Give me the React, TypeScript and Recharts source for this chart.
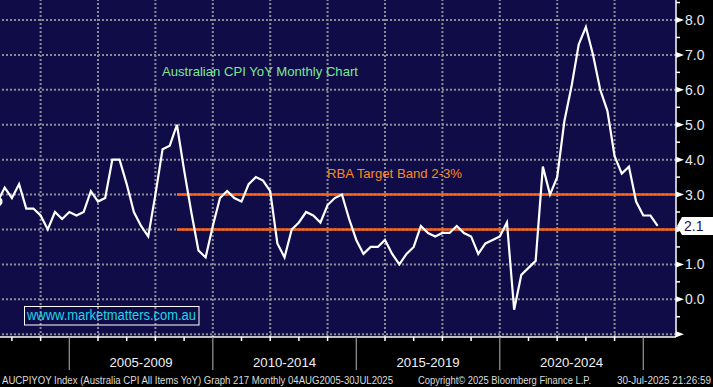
import React from 'react';
import { LineChart, Line, XAxis, YAxis, CartesianGrid, ReferenceLine } from 'recharts';

// Quarter-end periods (YYYY-MM)
const periods: string[] = [
  '2002-06', '2002-09', '2002-12',
  '2003-03', '2003-06', '2003-09', '2003-12',
  '2004-03', '2004-06', '2004-09', '2004-12',
  '2005-03', '2005-06', '2005-09', '2005-12',
  '2006-03', '2006-06', '2006-09', '2006-12',
  '2007-03', '2007-06', '2007-09', '2007-12',
  '2008-03', '2008-06', '2008-09', '2008-12',
  '2009-03', '2009-06', '2009-09', '2009-12',
  '2010-03', '2010-06', '2010-09', '2010-12',
  '2011-03', '2011-06', '2011-09', '2011-12',
  '2012-03', '2012-06', '2012-09', '2012-12',
  '2013-03', '2013-06', '2013-09', '2013-12',
  '2014-03', '2014-06', '2014-09', '2014-12',
  '2015-03', '2015-06', '2015-09', '2015-12',
  '2016-03', '2016-06', '2016-09', '2016-12',
  '2017-03', '2017-06', '2017-09', '2017-12',
  '2018-03', '2018-06', '2018-09', '2018-12',
  '2019-03', '2019-06', '2019-09', '2019-12',
  '2020-03', '2020-06', '2020-09', '2020-12',
  '2021-03', '2021-06', '2021-09', '2021-12',
  '2022-03', '2022-06', '2022-09', '2022-12',
  '2023-03', '2023-06', '2023-09', '2023-12',
  '2024-03', '2024-06', '2024-09', '2024-12',
  '2025-03', '2025-06',
];

// CPI YoY %
const cpiYoY: number[] = [
  2.8, 3.2, 2.9,
  3.3, 2.6, 2.6, 2.4,
  2.0, 2.5, 2.3, 2.5,
  2.4, 2.5, 3.1, 2.8,
  2.9, 4.0, 4.0, 3.3,
  2.5, 2.1, 1.8, 3.0,
  4.3, 4.4, 5.0, 3.7,
  2.5, 1.4, 1.2, 2.1,
  2.9, 3.1, 2.9, 2.8,
  3.3, 3.5, 3.4, 3.1,
  1.6, 1.2, 2.0, 2.2,
  2.5, 2.4, 2.2, 2.7,
  2.9, 3.0, 2.3, 1.7,
  1.3, 1.5, 1.5, 1.7,
  1.3, 1.0, 1.3, 1.5,
  2.1, 1.9, 1.8, 1.9,
  1.9, 2.1, 1.9, 1.8,
  1.3, 1.6, 1.7, 1.8,
  2.2, -0.3, 0.7, 0.9,
  1.1, 3.8, 3.0, 3.5,
  5.1, 6.1, 7.3, 7.8,
  7.0, 6.0, 5.4, 4.1,
  3.6, 3.8, 2.8, 2.4,
  2.4, 2.1,
];

const yearTicks: number[] = [2003, 2004, 2005, 2006, 2007, 2008, 2009, 2010, 2011, 2012, 2013, 2014, 2015, 2016, 2017, 2018, 2019, 2020, 2021, 2022, 2023, 2024, 2025];
const gridYears: number[] = [2004, 2006, 2008, 2010, 2012, 2014, 2016, 2018, 2020, 2022, 2024];
const separatorYears: number[] = [2005, 2010, 2015, 2020, 2025];
const periodLabels: string[] = ['2005-2009', '2010-2014', '2015-2019', '2020-2024'];
const periodStarts: number[] = [2005, 2010, 2015, 2020];
const yMajorTicks: number[] = [-1, 0, 1, 2, 3, 4, 5, 6, 7, 8];
const yMinorTicks: number[] = [-0.5, 0.5, 1.5, 2.5, 3.5, 4.5, 5.5, 6.5, 7.5, 8.5];
const bandLevels: number[] = [2, 3];
const bandStartPeriod = '2008-09';

const X_DOMAIN: [number, number] = [2002.585, 2026.14];
const Y_DOMAIN: [number, number] = [-1.08, 8.573];

const toYear = (p: string) => {
  const [y, m] = p.split('-').map(Number);
  return y + m / 12;
};

const data = periods.map((p, i) => ({ x: toYear(p), v: cpiYoY[i] }));
const periodMids = periodStarts.map((s) => s + 2.5);
const lastValue = cpiYoY[cpiYoY.length - 1];
const allYTicks = [...yMajorTicks, ...yMinorTicks].sort((a, b) => a - b);
const allXTicks = [...yearTicks, ...periodMids].sort((a, b) => a - b);

const FONT = '"Liberation Sans", Arial, sans-serif';
const GRID = '#8c8c96';

const YTick = (props: any) => {
  const { x, y, payload } = props;
  const v = payload.value as number;
  const isMajor = yMajorTicks.includes(v);
  if (!isMajor) {
    return <line x1={x} y1={y} x2={x + 4} y2={y} stroke="#ffffff" strokeWidth={1.5} />;
  }
  const showLabel = v > -1 && Math.abs(v - lastValue) > 0.5;
  return (
    <g>
      <polygon points={`${x},${y - 3} ${x + 8},${y} ${x},${y + 3}`} fill="#ffffff" />
      {showLabel && (
        <text x={x + 9} y={y} dy="0.36em" fill="#e8e8f0" fontSize={14} fontFamily={FONT} textAnchor="start">
          {v.toFixed(1)}
        </text>
      )}
    </g>
  );
};

const XTick = (props: any) => {
  const { x, y, payload } = props;
  const v = payload.value as number;
  const pIdx = periodMids.indexOf(v);
  if (pIdx >= 0) {
    return (
      <text x={x} y={y + 21} dy="0.71em" fill="#f0f0f0" fontSize={13} fontFamily={FONT} textAnchor="middle" textLength={63} lengthAdjust="spacingAndGlyphs">
        {periodLabels[pIdx]}
      </text>
    );
  }
  if (separatorYears.includes(v)) {
    return <line x1={x} y1={y} x2={x} y2={y + 33} stroke="#9a9a9a" strokeWidth={1.2} />;
  }
  return <line x1={x} y1={y} x2={x} y2={y + 4} stroke="#ffffff" strokeWidth={1.5} />;
};

const renderLastLabel = (p: any) => {
  const vb = p.viewBox || {};
  const x = (vb.x || 0) + (vb.width || 0);
  const y = vb.y || 0;
  return (
    <g>
      <polygon points={`${x + 1},${y} ${x + 6},${y - 9} ${x + 40},${y - 9} ${x + 40},${y + 9} ${x + 6},${y + 9}`} fill="#ffffff" />
      <text x={x + 8} y={y} dy="0.36em" fill="#14124a" fontSize={14} fontFamily={FONT}>
        {lastValue.toFixed(1)}
      </text>
    </g>
  );
};

export default function App() {
  const bandStart = toYear(bandStartPeriod);
  return (
    <div style={{ position: 'absolute', left: 0, top: 0, width: 713, height: 387, background: '#000000', overflow: 'hidden' }}>
      <LineChart width={713} height={387} data={data} margin={{ top: 0, right: 0, bottom: 0, left: 0 }}>
        <CartesianGrid xAxisId="yr" yAxisId="L" horizontal={false} vertical={false} fill="#100c48" fillOpacity={1} />
        <XAxis xAxisId="yr" dataKey="x" type="number" domain={X_DOMAIN} ticks={allXTicks} interval={0} allowDataOverflow height={50} axisLine={{ stroke: '#ffffff', strokeWidth: 1.5 }} tickLine={false} tickSize={0} tickMargin={0} tick={<XTick />} />
        <YAxis yAxisId="L" orientation="right" type="number" domain={Y_DOMAIN} ticks={allYTicks} interval={0} allowDataOverflow width={37} axisLine={{ stroke: '#ffffff', strokeWidth: 1.5 }} tickLine={false} tickSize={0} tickMargin={0} tick={<YTick />} />
        {yMajorTicks.map((t) => (
          <ReferenceLine key={`h${t}`} xAxisId="yr" yAxisId="L" y={t} stroke={GRID} strokeWidth={2} strokeDasharray="2 2" />
        ))}
        {gridYears.map((g) => (
          <ReferenceLine key={`v${g}`} xAxisId="yr" yAxisId="L" x={g} stroke={GRID} strokeWidth={2} strokeDasharray="2 2" />
        ))}
        {bandLevels.map((l) => (
          <ReferenceLine
            key={`b${l}`}
            xAxisId="yr"
            yAxisId="L"
            segment={[{ x: bandStart, y: l }, { x: X_DOMAIN[1], y: l }]}
            stroke="#ff6414"
            strokeWidth={2.5}
            ifOverflow="visible"
          />
        ))}
        <Line xAxisId="yr" yAxisId="L" type="linear" dataKey="v" stroke="#ffffff" strokeWidth={2.2} dot={false} isAnimationActive={false} />
        <ReferenceLine xAxisId="yr" yAxisId="L" y={lastValue} stroke="none" label={renderLastLabel} />
      </LineChart>
      <svg width={713} height={387} style={{ position: 'absolute', left: 0, top: 0, pointerEvents: 'none' }}>
        <text x={162} y={75.5} fill="#7de88e" fontSize={13.5} fontFamily={FONT} textLength={196} lengthAdjust="spacingAndGlyphs">
          Australian CPI YoY Monthly Chart
        </text>
        <text x={327} y={178.3} fill="#ff8a1a" fontSize={13.5} fontFamily={FONT} textLength={135} lengthAdjust="spacingAndGlyphs">
          RBA Target Band 2-3%
        </text>
        <rect x={24.5} y={306.5} width={174.5} height={18.5} fill="none" stroke="#ffffff" strokeWidth={1} />
        <text x={27} y={320} fill="#1fd6e8" fontSize={14} fontFamily={FONT} textLength={169} lengthAdjust="spacingAndGlyphs">
          wwww.marketmatters.com.au
        </text>
        <text x={2} y={383.5} fill="#dcdcdc" fontSize={10} fontFamily={FONT} textLength={391} lengthAdjust="spacingAndGlyphs">
          AUCPIYOY Index (Australia CPI All Items YoY) Graph 217  Monthly 04AUG2005-30JUL2025
        </text>
        <text x={418} y={383.5} fill="#dcdcdc" fontSize={10} fontFamily={FONT} textLength={173} lengthAdjust="spacingAndGlyphs">
          Copyright© 2025 Bloomberg Finance L.P.
        </text>
        <text x={617} y={383.5} fill="#dcdcdc" fontSize={10} fontFamily={FONT} textLength={94} lengthAdjust="spacingAndGlyphs">
          30-Jul-2025 21:26:59
        </text>
      </svg>
    </div>
  );
}
